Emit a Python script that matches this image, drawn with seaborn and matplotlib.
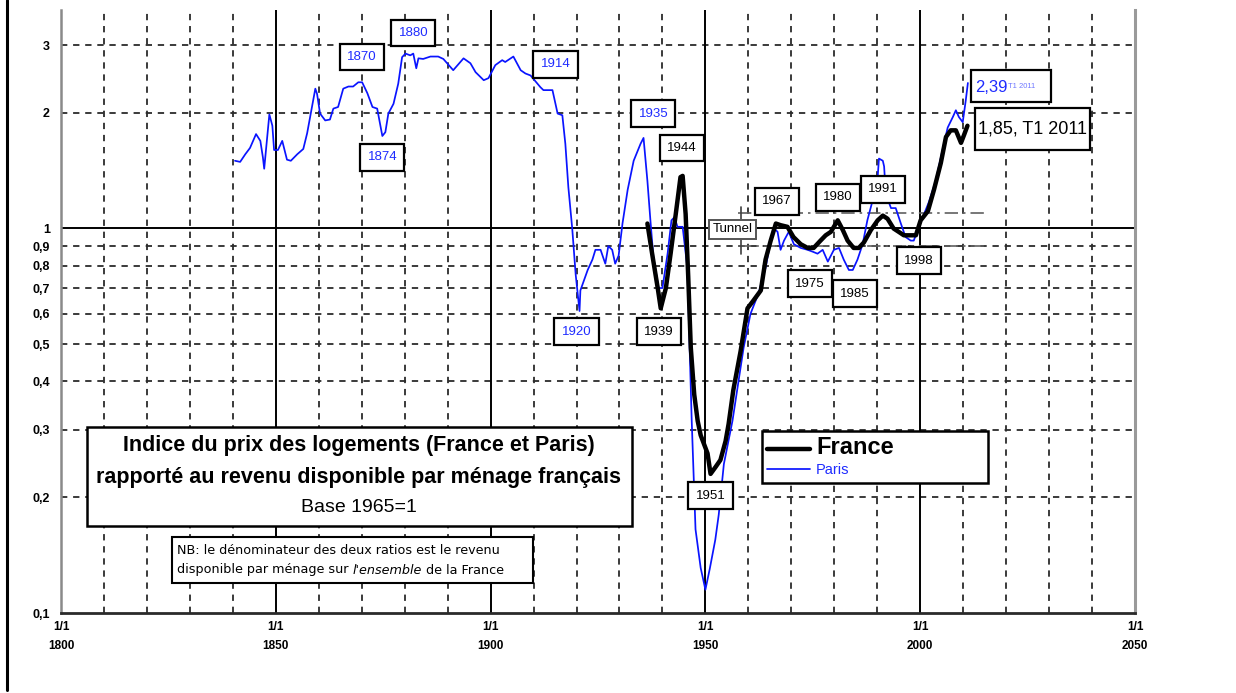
import matplotlib
matplotlib.use("Agg")
import matplotlib.pyplot as plt
from matplotlib.lines import Line2D
from matplotlib.patches import Rectangle
from matplotlib.ticker import FixedLocator, FixedFormatter, NullLocator
import pandas as pd
import seaborn as sns

# ---- data -------------------------------------------------------------
paris_year = [1840.5, 1841.7, 1842.9, 1844.0, 1845.4, 1846.4, 1847.0, 1847.3, 1848.5, 1849.2,
              1849.6, 1850.5, 1851.5, 1852.6, 1853.5, 1855.0, 1856.4, 1857.3, 1858.5, 1859.2,
              1859.6, 1860.3, 1861.5, 1862.6, 1863.4, 1864.5, 1865.7, 1866.9, 1868.0, 1869.2,
              1870.1, 1871.3, 1872.5, 1873.6, 1874.8, 1875.5, 1876.2, 1877.4, 1878.5, 1879.4,
              1880.2, 1881.3, 1882.0, 1882.7, 1883.2, 1884.3, 1886.0, 1887.8, 1889.0, 1891.3,
              1893.7, 1895.3, 1896.5, 1898.4, 1899.5, 1901.1, 1902.7, 1903.4, 1905.3, 1907.0,
              1908.1, 1909.3, 1911.6, 1912.3, 1914.4, 1915.6, 1916.7, 1917.4, 1918.1, 1919.0,
              1919.8, 1920.2, 1920.7, 1920.9, 1922.6, 1923.7, 1924.4, 1925.6, 1926.7, 1927.4,
              1928.3, 1929.0, 1929.8, 1930.7, 1931.9, 1933.3, 1934.9, 1935.6, 1936.5, 1937.2,
              1937.9, 1939.1, 1940.0, 1941.2, 1942.1, 1942.8, 1943.5, 1944.7, 1945.8, 1946.3,
              1946.8, 1947.7, 1948.9, 1950.0, 1951.0, 1952.3, 1953.1, 1954.3, 1956.3, 1958.9,
              1960.5, 1962.4, 1964.0, 1965.2, 1966.0, 1966.8, 1967.5, 1968.3, 1969.4, 1970.6,
              1972.2, 1973.8, 1975.0, 1976.1, 1977.3, 1978.5, 1979.9, 1981.1, 1982.2, 1983.4,
              1984.3, 1985.4, 1986.6, 1987.7, 1988.9, 1990.1, 1990.4, 1991.3, 1991.6, 1992.0,
              1993.2, 1994.3, 1995.5, 1996.6, 1997.8, 1998.5, 1999.4, 2000.6, 2002.0, 2003.6,
              2005.3, 2006.4, 2007.6, 2008.3, 2009.0, 2009.9, 2010.6, 2011.1]
paris_ratio = [1.50, 1.49, 1.56, 1.62, 1.76, 1.69, 1.53, 1.43, 1.98, 1.85,
               1.60, 1.60, 1.69, 1.51, 1.50, 1.56, 1.61, 1.77, 2.09, 2.31,
               2.24, 1.99, 1.91, 1.92, 2.05, 2.07, 2.31, 2.34, 2.34, 2.40,
               2.40, 2.25, 2.07, 2.05, 1.74, 1.78, 1.99, 2.11, 2.38, 2.79,
               2.85, 2.82, 2.85, 2.61, 2.77, 2.76, 2.80, 2.80, 2.76, 2.58,
               2.77, 2.69, 2.55, 2.43, 2.46, 2.66, 2.74, 2.71, 2.80, 2.58,
               2.53, 2.50, 2.33, 2.29, 2.29, 1.99, 1.97, 1.66, 1.28, 1.00,
               0.76, 0.69, 0.61, 0.69, 0.78, 0.83, 0.88, 0.88, 0.81, 0.90,
               0.88, 0.81, 0.85, 1.03, 1.26, 1.50, 1.66, 1.72, 1.33, 1.05,
               0.84, 0.70, 0.70, 0.86, 1.05, 1.07, 1.01, 1.01, 0.79, 0.50,
               0.32, 0.165, 0.131, 0.115, 0.13, 0.155, 0.18, 0.244, 0.316, 0.49,
               0.60, 0.68, 0.79, 0.93, 1.00, 0.98, 0.88, 0.93, 0.98, 0.91,
               0.89, 0.88, 0.87, 0.86, 0.88, 0.82, 0.88, 0.89, 0.83, 0.78,
               0.78, 0.83, 0.91, 1.05, 1.18, 1.36, 1.52, 1.50, 1.45, 1.23,
               1.13, 1.13, 1.03, 0.95, 0.93, 0.93, 0.99, 1.07, 1.17, 1.33,
               1.62, 1.83, 1.95, 2.03, 1.95, 1.89, 2.15, 2.39]

france_year = [1936.5, 1937.6, 1938.9, 1939.6, 1940.8, 1941.9, 1943.1, 1944.2, 1944.7, 1945.4,
               1946.0, 1946.6, 1947.4, 1948.2, 1948.9, 1950.5, 1951.2, 1952.4, 1953.5, 1954.7,
               1955.4, 1956.5, 1958.2, 1959.8, 1961.2, 1962.9, 1964.0, 1965.2, 1966.4, 1967.5,
               1969.1, 1970.5, 1972.2, 1973.8, 1975.2, 1976.8, 1978.0, 1979.2, 1980.8, 1982.0,
               1983.1, 1984.5, 1985.7, 1986.9, 1988.5, 1990.1, 1991.3, 1992.4, 1993.8, 1995.0,
               1996.2, 1997.8, 1999.0, 2000.1, 2001.8, 2003.2, 2004.8, 2006.0, 2007.1, 2008.3,
               2009.5, 2010.2, 2011.0]
france_ratio = [1.03, 0.86, 0.70, 0.62, 0.70, 0.86, 1.09, 1.36, 1.37, 1.09,
                0.75, 0.49, 0.37, 0.316, 0.29, 0.26, 0.23, 0.24, 0.25, 0.28,
                0.31, 0.38, 0.48, 0.62, 0.65, 0.69, 0.83, 0.93, 1.03, 1.02,
                1.01, 0.95, 0.91, 0.89, 0.89, 0.93, 0.96, 0.98, 1.05, 0.99,
                0.93, 0.89, 0.89, 0.92, 0.99, 1.05, 1.08, 1.06, 1.00, 0.98,
                0.96, 0.96, 0.96, 1.05, 1.11, 1.26, 1.48, 1.73, 1.80, 1.80,
                1.67, 1.75, 1.85]

x_ticks = [1800, 1850, 1900, 1950, 2000, 2050]
x_tick_labels = ["1/1\n1800", "1/1\n1850", "1/1\n1900", "1/1\n1950", "1/1\n2000", "1/1\n2050"]
y_ticks = [0.1, 0.2, 0.3, 0.4, 0.5, 0.6, 0.7, 0.8, 0.9, 1, 2, 3]
y_tick_labels = ["0,1", "0,2", "0,3", "0,4", "0,5", "0,6", "0,7", "0,8", "0,9", "1", "2", "3"]

# labelled points: (text, year, value)
paris_notes = [("1870", 1870.1, 2.79), ("1880", 1882.0, 3.22), ("1874", 1874.8, 1.53),
               ("1914", 1915.1, 2.67), ("1920", 1920.0, 0.539), ("1935", 1937.9, 1.99)]
france_notes = [("1944", 1944.5, 1.62), ("1939", 1939.1, 0.539), ("1951", 1951.2, 0.202),
                ("1967", 1966.6, 1.176), ("1980", 1980.8, 1.204), ("1991", 1991.3, 1.264),
                ("1975", 1974.3, 0.719), ("1985", 1984.8, 0.677), ("1998", 1999.7, 0.825)]
paris_last = "2,39"
france_last = "1,85, T1 2011"
last_quarter = "T1 2011"

# ---- figure -----------------------------------------------------------
sns.set_theme(style="white")
plt.rcParams['font.family'] = ['Liberation Sans', 'DejaVu Sans']
plt.rcParams['text.color'] = 'black'
plt.rcParams['xtick.color'] = 'black'
plt.rcParams['ytick.color'] = 'black'
plt.rcParams['xtick.labelcolor'] = 'black'
plt.rcParams['ytick.labelcolor'] = 'black'

W, H = 1236, 693
fig = plt.figure(figsize=(W / 100, H / 100), dpi=100)
fig.patch.set_facecolor("white")


def fx(px):
    return px / W


def fy(py):
    return 1 - py / H


ax = fig.add_axes([fx(61), fy(613), fx(1135) - fx(61), fy(10) - fy(613)])
ax.set_facecolor("white")
ax.set_yscale("log")
ax.set_xlim(1800, 2050)
ax.set_ylim(0.1, 3.7)

# grid: dashed every decade / every tick, solid at 50-year marks and at 1
grid_kw = dict(color="#2b2b2b", lw=1.3, zorder=0.5)
for yr in range(1810, 2050, 10):
    if yr % 50 == 0:
        ax.axvline(yr, color="black", lw=1.4, zorder=0.6)
    else:
        ax.axvline(yr, linestyle=(0, (3.5, 3.2)), **grid_kw)
for v in y_ticks[1:]:
    if v == 1:
        ax.axhline(v, color="black", lw=1.4, zorder=0.6)
    else:
        ax.axhline(v, linestyle=(0, (3.5, 3.2)), **grid_kw)

# tunnel bounds around the 1965 base
tunnel_kw = dict(color="#606060", lw=1.2, linestyle=(0, (8, 3, 1.5, 3)), zorder=0.7)
ax.plot([1957.5, 2015.0], [1.10, 1.10], **tunnel_kw)
ax.plot([1957.5, 2015.0], [0.90, 0.90], **tunnel_kw)
ax.plot([1958.3, 1958.3], [1.06, 1.14], color="#404040", lw=1.2)
ax.plot([1958.3, 1958.3], [0.86, 0.935], color="#404040", lw=1.2)

df_paris = pd.DataFrame({"year": paris_year, "ratio": paris_ratio})
df_france = pd.DataFrame({"year": france_year, "ratio": france_ratio})
sns.lineplot(data=df_paris, x="year", y="ratio", color="#0a14ff", lw=1.25,
             estimator=None, ax=ax, label="Paris", zorder=3)
sns.lineplot(data=df_france, x="year", y="ratio", color="black", lw=3.2,
             estimator=None, ax=ax, label="France", zorder=4)

# axes and ticks
ax.xaxis.set_major_locator(FixedLocator(x_ticks))
ax.xaxis.set_major_formatter(FixedFormatter(x_tick_labels))
ax.yaxis.set_major_locator(FixedLocator(y_ticks))
ax.yaxis.set_major_formatter(FixedFormatter(y_tick_labels))
ax.yaxis.set_minor_locator(NullLocator())
ax.xaxis.set_minor_locator(NullLocator())
ax.tick_params(axis="x", length=4, width=1.2, colors="black", pad=2, labelsize=8.5)
ax.tick_params(axis="y", length=0, pad=8, labelsize=9, colors="black")
for lab in ax.get_xticklabels():
    lab.set_fontweight("bold")
    lab.set_linespacing(1.7)
for lab in ax.get_yticklabels():
    lab.set_fontweight("bold")
ax.set_xlabel("")
ax.set_ylabel("")
ax.spines["top"].set_visible(False)
ax.spines["left"].set_color("#8a8a8a")
ax.spines["left"].set_linewidth(1.8)
ax.spines["right"].set_color("#9a9a9a")
ax.spines["right"].set_linewidth(2.2)
ax.spines["bottom"].set_color("#2a2a2a")
ax.spines["bottom"].set_linewidth(2.0)

# boxed year labels
box = dict(boxstyle="square,pad=0.55", fc="white", ec="black", lw=1.6)
for txt, yr, v in paris_notes:
    ax.text(yr, v, txt, color="#1f2cff", fontsize=9.5, ha="center", va="center",
            bbox=box, zorder=6)
for txt, yr, v in france_notes:
    ax.text(yr, v, txt, color="black", fontsize=9.5, ha="center", va="center",
            bbox=box, zorder=6)
ax.text(1956.3, 0.994, "Tunnel", color="black", fontsize=9.5, ha="center", va="center",
        bbox=dict(boxstyle="square,pad=0.25", fc="white", ec="#555555", lw=1.4),
        zorder=6)

# last values
fig.patches.append(Rectangle((fx(971), fy(102)), fx(1051) - fx(971), fy(70) - fy(102),
                             transform=fig.transFigure, fc="white", ec="black", lw=1.6, zorder=6))
fig.text(fx(975), fy(87), paris_last, color="#1f2cff", fontsize=12, va="center", ha="left", zorder=7)
fig.text(fx(1008), fy(87), last_quarter, color="#6f78ff", fontsize=5.5, va="center", ha="left", zorder=7)
fig.patches.append(Rectangle((fx(975), fy(150)), fx(1090) - fx(975), fy(108) - fy(150),
                             transform=fig.transFigure, fc="white", ec="black", lw=1.6, zorder=6))
fig.text(fx(1032), fy(129), france_last, color="black", fontsize=13, va="center", ha="center", zorder=7)

# title box
fig.patches.append(Rectangle((fx(87), fy(526)), fx(632) - fx(87), fy(427) - fy(526),
                             transform=fig.transFigure, fc="white", ec="black", lw=1.8, zorder=6))
fig.text(fx(359), fy(446), "Indice du prix des logements (France et Paris)",
         fontsize=15.5, fontweight="bold", ha="center", va="center", zorder=7)
fig.text(fx(359), fy(478), "rapporté au revenu disponible par ménage français",
         fontsize=15.5, fontweight="bold", ha="center", va="center", zorder=7)
fig.text(fx(359), fy(507), "Base 1965=1", fontsize=14, ha="center", va="center", zorder=7)

# note box
fig.patches.append(Rectangle((fx(172), fy(583)), fx(533) - fx(172), fy(537) - fy(583),
                             transform=fig.transFigure, fc="white", ec="black", lw=1.5, zorder=6))
note_kw = dict(fontsize=9.2, family="DejaVu Sans", va="center", ha="left", zorder=7)
fig.text(fx(177), fy(550), "NB: le dénominateur des deux ratios est le revenu", **note_kw)
renderer = fig.canvas.get_renderer()
parts = [("disponible par ménage sur ", "normal"), ("l'ensemble", "italic"), (" de la France", "normal")]
x_px = 177
for s, st in parts:
    t = fig.text(fx(x_px), fy(570), s, style=st, **note_kw)
    x_px += t.get_window_extent(renderer).width

# legend
handles, labels = ax.get_legend_handles_labels()
order = [labels.index("France"), labels.index("Paris")]
leg = ax.legend([handles[i] for i in order], [labels[i] for i in order],
                loc="upper left", mode="expand",
                bbox_to_anchor=(fx(762), fy(431), fx(988) - fx(762), 0.0),
                bbox_transform=fig.transFigure, frameon=True, fancybox=False, framealpha=1.0,
                handlelength=2.8, handletextpad=0.4, borderpad=0.35, labelspacing=0.25,
                borderaxespad=0)
leg.get_frame().set_edgecolor("black")
leg.get_frame().set_linewidth(1.8)
leg.set_zorder(8)
t_fr, t_pa = leg.get_texts()
t_fr.set_fontsize(17)
t_fr.set_fontweight("bold")
t_fr.set_color("black")
t_pa.set_fontsize(10.5)
t_pa.set_color("#1f2cff")

# left page border
fig.add_artist(Line2D([fx(7), fx(7)], [1, fy(690)], transform=fig.transFigure,
                      color="black", lw=2.2))

fig.savefig("out.png", dpi=100, facecolor="white")
